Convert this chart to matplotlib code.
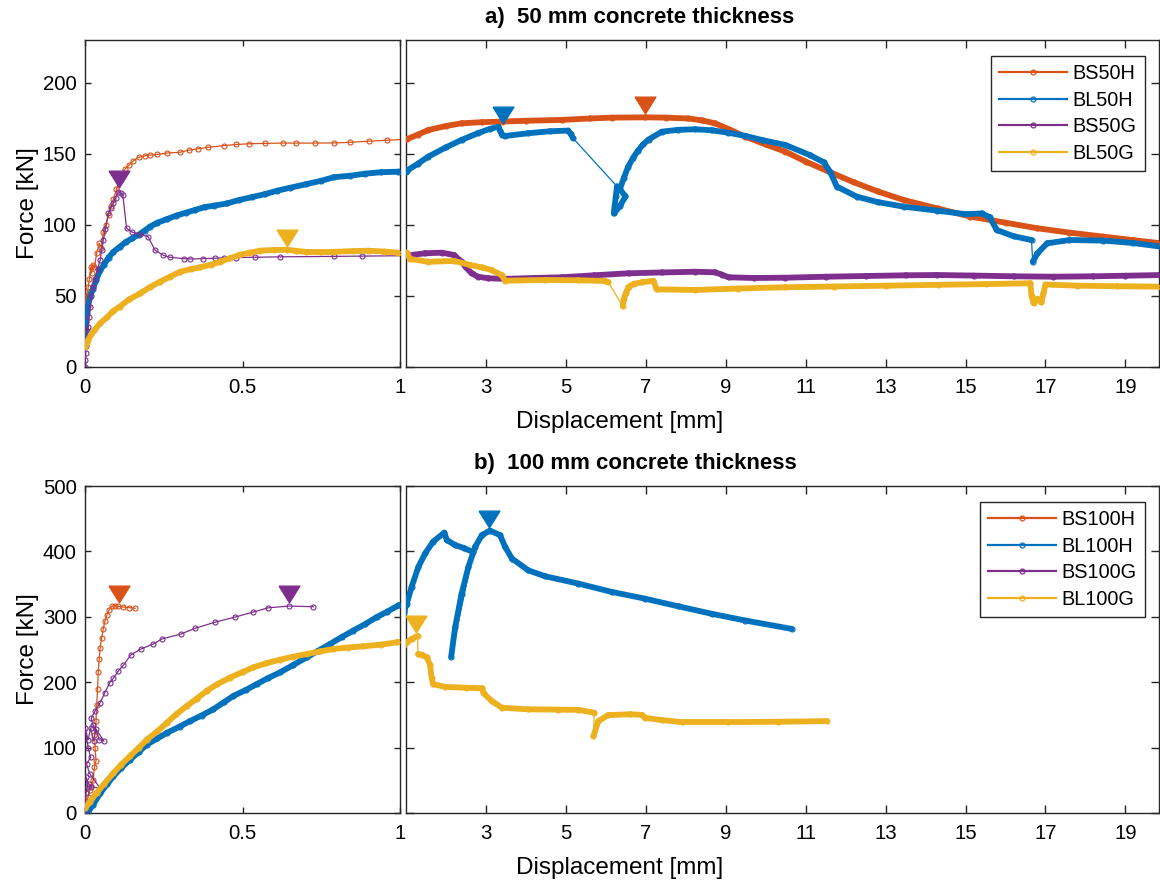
import matplotlib.pyplot as plt
import numpy as np
from matplotlib.collections import LineCollection
from matplotlib.lines import Line2D

plt.rcParams['font.family'] = ['Liberation Sans', 'DejaVu Sans']

# MATLAB default colours
c_or = '#D95319'
c_bl = '#0072BD'
c_pu = '#7E2F8E'
c_ye = '#EDB120'

# ---------------- a) 50 mm concrete thickness ----------------
bs50h_x = [0.0, 0.002, 0.004, 0.006, 0.01, 0.014, 0.018, 0.021, 0.025, 0.03, 0.037, 0.045, 0.052,
           0.058, 0.066, 0.075, 0.083, 0.09, 0.1, 0.108, 0.116, 0.126, 0.14, 0.153, 0.17, 0.19,
           0.206, 0.23, 0.26, 0.30, 0.33, 0.36, 0.39, 0.44, 0.48, 0.52, 0.57, 0.63, 0.67, 0.73,
           0.79, 0.84, 0.90, 0.96, 1.02, 1.3, 1.56, 2.0, 2.39, 2.9, 3.39, 4.0, 4.9, 5.6, 6.15,
           6.98, 7.5, 8.06, 8.4, 8.73, 9.1, 9.49, 10.0, 10.49, 11.0, 11.61, 12.2, 12.8, 13.45,
           14.3, 15.12, 16.0, 16.79, 17.6, 18.45, 19.2, 19.9]
bs50h_y = [38, 45, 52, 44, 56, 62, 70, 66, 72, 70, 80, 87, 84, 95, 100, 107, 113, 118, 125, 130,
           134, 139, 142, 145, 147.5, 148.5, 149, 149.5, 150.5, 151, 152.5, 153.5, 154.5, 155.7,
           156.5, 157, 157.3, 157.5, 157.5, 157.5, 157.6, 158, 158.8, 159.5, 160.2, 163.5, 166.7,
           169.5, 171.4, 172.2, 172.6, 173.2, 173.8, 174.8, 175.4, 175.6, 175.4, 174.8, 173.5,
           171.4, 167, 162, 156.5, 151.5, 144.5, 137, 130, 123.5, 117.5, 111.5, 105.8, 101.5,
           97.6, 94.5, 91.7, 89.2, 87]

bl50h_x = [0.0, 0.002, 0.004, 0.007, 0.01, 0.016, 0.025, 0.035, 0.048, 0.06, 0.075, 0.09, 0.111,
           0.13, 0.15, 0.17, 0.19, 0.206, 0.23, 0.26, 0.29, 0.32, 0.35, 0.38, 0.41, 0.45, 0.49,
           0.53, 0.57, 0.61, 0.65, 0.70, 0.75, 0.79, 0.84, 0.89, 0.94, 0.995, 1.02, 1.3, 1.56,
           2.0, 2.39, 2.8, 3.1, 3.31, 3.36, 3.4, 3.48, 4.05, 4.6, 5.06, 5.12, 5.18, 6.28, 6.25,
           6.22, 6.2, 6.35, 6.49, 6.35, 6.45, 6.56, 6.68, 6.8, 6.93, 7.07, 7.4, 7.8, 8.24, 8.65,
           9.06, 9.5, 9.9, 10.49, 11.11, 11.45, 11.61, 11.78, 12.28, 12.8, 13.45, 14.28, 15.0,
           15.4, 15.6, 15.78, 16.2, 16.65, 16.68, 16.8, 17.04, 17.6, 18.45, 19.2, 19.9]
bl50h_y = [18, 25, 32, 38, 43, 49.5, 55, 61, 68, 72, 77, 81, 84.6, 88, 90.5, 93, 96, 98.7, 101.5,
           104, 106.5, 108.5, 110.5, 112.5, 113.5, 115, 117.5, 119.5, 121.5, 124, 126, 128.5,
           131, 133.5, 134.5, 136, 137, 137.4, 138, 143, 148, 154.5, 159.7, 164.5, 167.5, 169,
           166, 163.5, 162.5, 164.4, 165.8, 166.3, 164, 160.9, 127, 120, 113, 108, 113, 120, 125,
           133, 141, 147, 152, 156.5, 160, 165.5, 166.8, 167.2, 166.5, 164.8, 162.5, 159.7, 156.2,
           149, 144, 137.4, 126.9, 119.8, 116, 112.8, 110, 107.5, 108, 105.5, 96.4, 92, 89.3, 74,
           80, 87, 89.3, 88.9, 87.2, 84.6]

bs50g_x = [0.0, 0.001, 0.002, 0.003, 0.005, 0.007, 0.01, 0.013, 0.016, 0.02, 0.026, 0.032, 0.04,
           0.048, 0.053, 0.058, 0.065, 0.074, 0.082, 0.09, 0.098, 0.106, 0.113, 0.12, 0.132,
           0.148, 0.175, 0.2, 0.222, 0.249, 0.27, 0.314, 0.333, 0.375, 0.413, 0.44, 0.48, 0.54,
           0.62, 0.79, 0.88, 1.02, 1.2, 1.48, 1.9, 2.2, 2.39, 2.5, 2.64, 2.8, 3.06, 3.48, 4.2,
           4.9, 5.7, 6.57, 7.4, 8.24, 8.73, 8.9, 9.07, 9.7, 10.49, 11.5, 12.5, 13.5, 14.28, 15.2,
           16.2, 17.2, 18.2, 19.0, 19.9]
bs50g_y = [0, 5, 10, 15, 20, 25, 28, 35, 42, 50, 56.5, 62, 69, 75, 82, 89, 97, 108, 112, 115, 119,
           123.3, 122.5, 121, 97.6, 95, 93.3, 91.7, 82.3, 78.5, 77.2, 76.2, 76, 76.2, 76.5, 76.8,
           77, 77.2, 77.5, 77.8, 78, 78.3, 79, 80, 80.4, 78.8, 74, 70, 65.9, 63.5, 62.4, 62, 62.6,
           63.1, 64.5, 65.9, 66.5, 67, 66.6, 65, 63.1, 62.6, 62.8, 63.5, 64, 64.5, 64.7, 64.3,
           63.8, 63.5, 63.8, 64.2, 64.7]

bl50g_x = [0.0, 0.005, 0.01, 0.02, 0.03, 0.048, 0.07, 0.09, 0.11, 0.14, 0.175, 0.205, 0.238,
           0.27, 0.302, 0.335, 0.365, 0.40, 0.43, 0.46, 0.49, 0.525, 0.556, 0.6, 0.64, 0.67, 0.70,
           0.75, 0.79, 0.85, 0.9, 0.95, 0.995, 1.02, 1.1, 1.56, 2.2, 2.6, 2.9, 3.14, 3.39, 3.48,
           4.48, 5.3, 5.98, 6.06, 6.42, 6.45, 6.5, 6.57, 6.7, 6.9, 7.19, 7.27, 8.24, 9.3, 10.49,
           11.7, 13.0, 14.3, 15.5, 16.62, 16.65, 16.7, 16.8, 16.9, 16.95, 17.0, 17.8, 18.8, 19.9]
bl50g_y = [14, 17, 19, 23, 26, 30.7, 35, 39.5, 42.4, 47.5, 51.8, 56, 60, 63.5, 67, 68.8, 70.1, 72,
           74, 76.5, 78.8, 80.5, 81.8, 82.3, 82.5, 81.7, 81, 81, 81, 81.5, 81.8, 81.2, 80.4, 80.4,
           76, 74, 74.6, 71.8, 70, 68.2, 64.7, 60.7, 61.2, 61, 60.5, 59.7, 42.9, 48, 52, 56.5,
           58.5, 59.6, 60.7, 54.6, 54.2, 55.2, 56.1, 56.6, 57.2, 57.8, 58.3, 58.9, 50, 45, 48,
           45.5, 52, 58, 57.2, 56.8, 56.5]

# peak markers (displacement, force)
bs50h_peak = (6.98, 184.3)
bl50h_peak = (3.42, 177.3)
bs50g_peak = (0.109, 132)
bl50g_peak = (0.64, 91)

# ---------------- b) 100 mm concrete thickness ----------------
bs100h_x = [0.0, 0.005, 0.01, 0.015, 0.02, 0.026, 0.03, 0.035, 0.032, 0.03, 0.035, 0.037, 0.04,
            0.042, 0.045, 0.048, 0.053, 0.058, 0.063, 0.069, 0.076, 0.085, 0.094, 0.105, 0.122,
            0.14, 0.159]
bs100h_y = [5, 16, 25, 35, 42, 50, 70, 80, 100, 120, 140, 165, 190, 215, 235, 252, 268, 282, 293,
            302, 310, 316, 317, 316, 315, 314, 313]

bl100h_x = [0.0, 0.01, 0.025, 0.048, 0.07, 0.09, 0.115, 0.143, 0.17, 0.196, 0.23, 0.26, 0.3,
            0.333, 0.37, 0.407, 0.44, 0.471, 0.51, 0.545, 0.58, 0.619, 0.66, 0.704, 0.74, 0.778,
            0.815, 0.852, 0.89, 0.926, 0.96, 0.995, 1.02, 1.14, 1.31, 1.48, 1.68, 1.96, 2.02,
            2.23, 2.45, 2.68, 2.13, 2.23, 2.39, 2.56, 2.73, 2.9, 3.1, 3.35, 3.48, 3.65, 4.06,
            4.48, 5.31, 6.15, 6.98, 7.82, 8.65, 9.49, 10.65]
bl100h_y = [0, 2, 12, 30, 44, 56, 69, 81.5, 93, 104.6, 114, 122.6, 132, 140.5, 149, 158.5, 169,
            179, 188, 197, 206, 215, 226, 238, 248, 258.5, 269, 279, 289, 299.5, 308, 317.4, 320,
            345.7, 376.4, 397, 415, 428.7, 417.4, 409.7, 405, 399, 239, 284, 335, 376, 407, 425,
            431.8, 425, 407, 389, 371, 362, 350.8, 338, 327.7, 315.9, 304.6, 294.3, 281.5]

bs100g_x = [0.0, 0.003, 0.008, 0.003, 0.012, 0.02, 0.048, 0.015, 0.005, 0.018, 0.01, 0.0, 0.01,
            0.018, 0.027, 0.035, 0.045, 0.06, 0.025, 0.02, 0.032, 0.048, 0.063, 0.079, 0.09,
            0.106, 0.122, 0.145, 0.178, 0.217, 0.244, 0.305, 0.35, 0.413, 0.476, 0.532, 0.582,
            0.649, 0.725]
bs100g_y = [5, 30, 40, 55, 45, 40, 38, 60, 75, 85, 100, 130, 112, 130, 110, 128, 112, 110, 135,
            145, 156, 168.7, 184, 199.5, 206, 217.4, 226, 241.5, 250.8, 258.5, 266, 273.8, 282.5,
            291.8, 299.5, 307, 313.8, 316.4, 315.4]

bl100g_x = [0.0, 0.015, 0.037, 0.06, 0.09, 0.115, 0.143, 0.17, 0.196, 0.23, 0.26, 0.29, 0.323,
            0.355, 0.386, 0.42, 0.46, 0.5, 0.534, 0.575, 0.619, 0.66, 0.704, 0.745, 0.788, 0.835,
            0.884, 0.94, 0.99, 1.02, 1.14, 1.29, 1.3, 1.4, 1.52, 1.6, 1.64, 1.68, 1.98, 2.5, 2.9,
            2.94, 3.15, 3.4, 4.06, 4.8, 5.31, 5.71, 5.69, 5.81, 6.06, 6.6, 6.9, 6.98, 7.4, 7.9,
            9.06, 10.3, 11.53]
bl100g_y = [7, 17, 30.7, 44, 61, 74, 87, 99.5, 112, 125, 138, 151, 163.6, 175, 186.7, 197, 207,
            215.5, 222.6, 229, 234.4, 239, 243, 247, 250.8, 253, 254.9, 257.5, 261, 261, 266, 271,
            243, 242, 238, 227, 207, 197, 192.8, 191.5, 190.8, 183, 171, 161, 158.5, 158, 157.7,
            153.4, 117.4, 140.5, 149.7, 151, 150, 145.6, 142, 139, 139, 139.5, 140.5]

bs100h_peak = (0.107, 335)
bl100h_peak = (3.085, 449)
bs100g_peak = (0.649, 335)
bl100g_peak = (1.25, 289)

labels_a = ['BS50H', 'BL50H', 'BS50G', 'BL50G']
labels_b = ['BS100H', 'BL100H', 'BS100G', 'BL100G']

W, H = 1160, 883
fig = plt.figure(figsize=(W / 100, H / 100), dpi=100)
axcol = '#262626'
tri = [(-1, 0.8), (1, 0.8), (0, -0.8), (-1, 0.8)]


def make_axes(x0, x1, top, bottom):
    return fig.add_axes([x0 / W, 1 - bottom / H, (x1 - x0) / W, (bottom - top) / H])


def style(ax, ticklen):
    for s in ax.spines.values():
        s.set_color(axcol)
        s.set_linewidth(1.0)
    ax.tick_params(direction='in', top=True, right=True, length=ticklen, width=1.0,
                   color=axcol, labelsize=14.7, labelcolor='black')
    ax.tick_params(axis='x', pad=8)
    ax.tick_params(axis='y', pad=6)


def draw(ax, x, y, col, dense):
    x = np.asarray(x, float)
    y = np.asarray(y, float)
    ax.plot(x, y, '-', color=col, lw=0.9, marker='o', ms=3.6, mfc='none', mew=0.8, zorder=3)
    if dense:
        # densely sampled parts look like a thick band; sudden drops stay thin
        p = ax.transData.transform(np.column_stack([x, y]))
        d = np.diff(p, axis=0)
        jump = ((d[:, 1] < -16) & (np.abs(d[:, 0]) < 0.8 * np.abs(d[:, 1]))) | \
               (np.hypot(d[:, 0], d[:, 1]) > 58)
        segs = [[(x[i], y[i]), (x[i + 1], y[i + 1])] for i in range(len(x) - 1) if not jump[i]]
        lc = LineCollection(segs, colors=col, linewidths=4.2, capstyle='round',
                            joinstyle='round', zorder=3)
        ax.add_collection(lc)


def row(top, bottom, ymax, yticks, series, peaks, labels, title, title_x):
    axl = make_axes(85, 400, top, bottom)
    axr = make_axes(406, 1159, top, bottom)
    axl.set_xlim(0, 1)
    axr.set_xlim(1, 19.84)
    for ax in (axl, axr):
        ax.set_ylim(0, ymax)
        ax.set_yticks(yticks)
    axl.set_xticks([0, 0.5, 1])
    axl.set_xticklabels(['0', '0.5', '1'])
    axr.set_xticks(np.arange(3, 20, 2))
    axr.set_yticklabels([])
    style(axl, 4)
    style(axr, 5.5)
    # left panel: "L" specimens are densely sampled
    for (x, y, col), dense in zip(series, [False, True, False, True]):
        draw(axl, x, y, col, dense)
        draw(axr, x, y, col, True)
    for ax in (axl, axr):
        for (px, py), (_, _, col) in zip(peaks, series):
            ax.plot([px], [py], marker=tri, ms=15, color=col, mec=col, ls='none', zorder=5)
    handles = [Line2D([0], [0], color=col, lw=1.6, marker='o', ms=3.5, mfc='none', mew=0.9)
               for (_, _, col) in series]
    leg = axr.legend(handles, labels, loc='upper right', bbox_to_anchor=(0.981, 0.951),
                     borderaxespad=0, fancybox=False, edgecolor=axcol, framealpha=1,
                     fontsize=14.3, handlelength=3.4, handletextpad=0.3, labelspacing=0.38,
                     borderpad=0.4)
    leg.get_frame().set_linewidth(1.0)
    fig.text(28 / W, 1 - (top + bottom) / 2 / H, 'Force [kN]', rotation=90,
             ha='center', va='center', fontsize=17.5)
    fig.text(620 / W, 1 - (bottom + 55) / H, 'Displacement [mm]', ha='center', va='center',
             fontsize=17.5)
    fig.text(title_x / W, 1 - (top - 22) / H, title, ha='center', va='center',
             fontsize=16, fontweight='bold')


row(40, 367, 230, [0, 50, 100, 150, 200],
    [(bs50h_x, bs50h_y, c_or), (bl50h_x, bl50h_y, c_bl),
     (bs50g_x, bs50g_y, c_pu), (bl50g_x, bl50g_y, c_ye)],
    [bs50h_peak, bl50h_peak, bs50g_peak, bl50g_peak],
    labels_a, 'a)  50 mm concrete thickness', 640)

row(486, 813, 500, [0, 100, 200, 300, 400, 500],
    [(bs100h_x, bs100h_y, c_or), (bl100h_x, bl100h_y, c_bl),
     (bs100g_x, bs100g_y, c_pu), (bl100g_x, bl100g_y, c_ye)],
    [bs100h_peak, bl100h_peak, bs100g_peak, bl100g_peak],
    labels_b, 'b)  100 mm concrete thickness', 635)

fig.savefig('out.png', dpi=100)
